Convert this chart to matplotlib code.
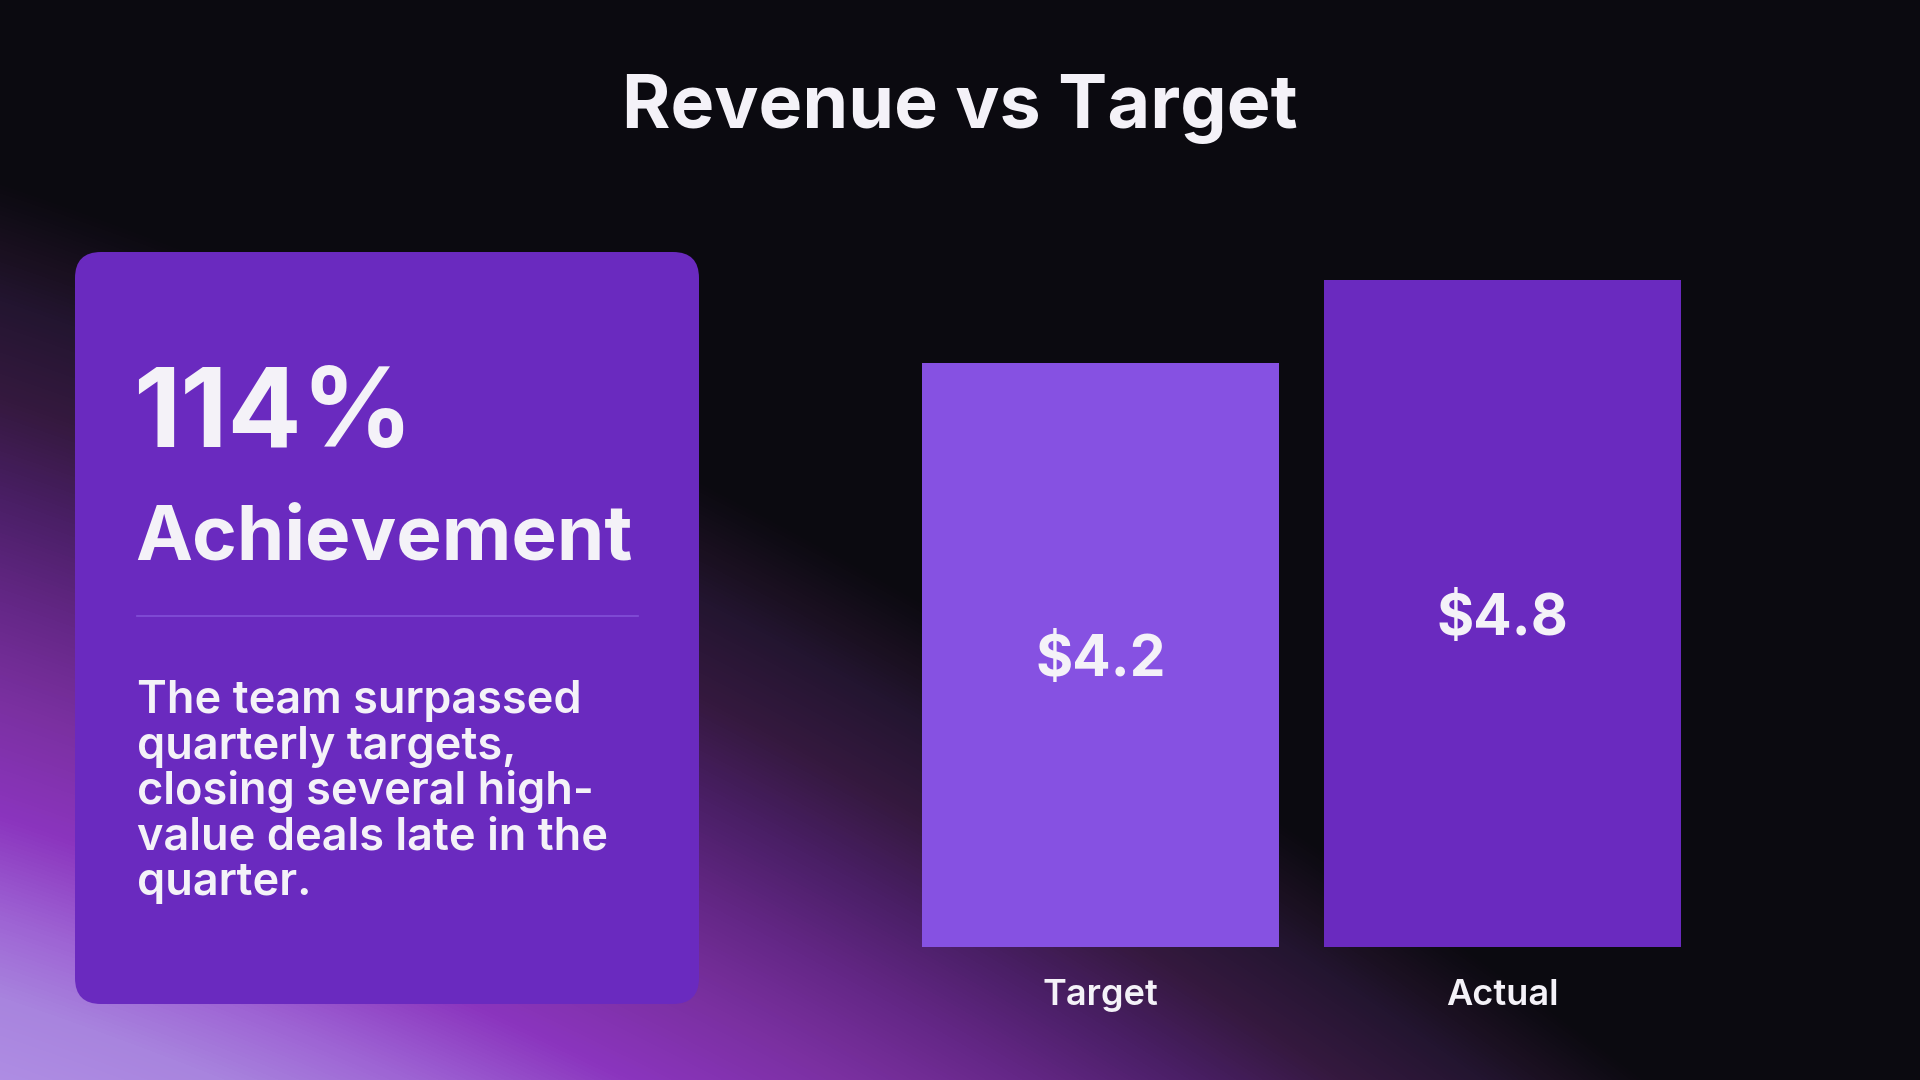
import numpy as np
import matplotlib
matplotlib.use("Agg")
import matplotlib.pyplot as plt
from matplotlib.patches import FancyBboxPatch
from matplotlib.colors import LinearSegmentedColormap
from matplotlib import font_manager

# ---- data ----
title = "Revenue vs Target"
categories = ["Target", "Actual"]
values = [4.2, 4.8]
value_labels = ["$4.2", "$4.8"]
kpi_value = "114%"
kpi_label = "Achievement"
body_lines = ["The team surpassed", "quarterly targets,", "closing several high-",
              "value deals late in the", "quarter."]

# ---- style ----
names = {f.name for f in font_manager.fontManager.ttflist}
FONT = "Inter" if "Inter" in names else "Lato"
plt.rcParams['font.family'] = [FONT, 'DejaVu Sans']
TXT = "#F4F2F8"
BG = "#0B0A10"
BAR_COLORS = ["#8651E2", "#6A2ABF"]
CARD = "#6A2ABF"

W, H = 1920, 1080
fig = plt.figure(figsize=(19.2, 10.8), dpi=100)
fig.patch.set_facecolor(BG)

# background: curved glow rising from the bottom-left corner
bg = fig.add_axes([0, 0, 1, 1])
bg.set_xlim(0, W)
bg.set_ylim(H, 0)
bg.axis('off')
xx, yy = np.meshgrid(np.arange(W) + 0.5, np.arange(H) + 0.5)
s = yy - 0.34 * xx - 1.25e-4 * xx ** 2
stops = [(0, BG), (180, BG), (250, "#1A1020"), (300, "#231530"), (400, "#35193F"),
         (500, "#4A1F66"), (600, "#642786"), (700, "#7A30A0"), (818, "#8B35BE"),
         (920, "#9E64D4"), (1000, "#A884DE"), (1100, "#B08FE5")]
smax = stops[-1][0]
cmap = LinearSegmentedColormap.from_list("glow", [(p / smax, c) for p, c in stops])
bg.imshow(np.clip(s / smax, 0, 1), cmap=cmap, vmin=0, vmax=1,
          extent=(0, W, H, 0), aspect='auto', zorder=0, interpolation='bilinear')

# title
bg.text(960, 128, title, ha='center', va='baseline', color=TXT,
        fontsize=53, fontweight='bold')

# card
card = FancyBboxPatch((75, 252), 624, 752, boxstyle="round,pad=0,rounding_size=26",
                      facecolor=CARD, edgecolor='none', zorder=2)
bg.add_patch(card)
bg.text(133, 447, kpi_value, ha='left', va='baseline', color=TXT,
        fontsize=79, fontweight='bold', zorder=3)
bg.text(135, 560, kpi_label, ha='left', va='baseline', color=TXT,
        fontsize=55, fontweight='bold', zorder=3)
bg.plot([137, 638], [616, 616], color="#8350D8", lw=1.2, zorder=3)
for i, line in enumerate(body_lines):
    bg.text(137, 713 + 45.5 * i, line, ha='left', va='baseline', color=TXT,
            fontsize=32.5, fontweight='semibold', zorder=3)

# bar chart
ax = fig.add_axes([922 / W, (H - 947) / H, 759 / W, 667 / H])
ax.set_facecolor('none')
x = np.arange(len(categories))
bars = ax.bar(x, values, width=0.89, color=BAR_COLORS, zorder=2)
ax.set_xlim(-0.445, len(categories) - 1 + 0.445)
ax.set_ylim(0, max(values))
for b, lab in zip(bars, value_labels):
    ax.annotate(lab, (b.get_x() + b.get_width() / 2, b.get_height() / 2),
                xytext=(0, -4.5), textcoords='offset points',
                ha='center', va='center', color=TXT, fontsize=41, fontweight='bold')
ax.set_xticks(x)
ax.set_xticklabels(categories, color=TXT, fontsize=26, fontweight='semibold')
ax.tick_params(axis='x', length=0, pad=23)
ax.set_yticks([])
for sp in ax.spines.values():
    sp.set_visible(False)

fig.savefig("out.png", dpi=100, facecolor=BG)
